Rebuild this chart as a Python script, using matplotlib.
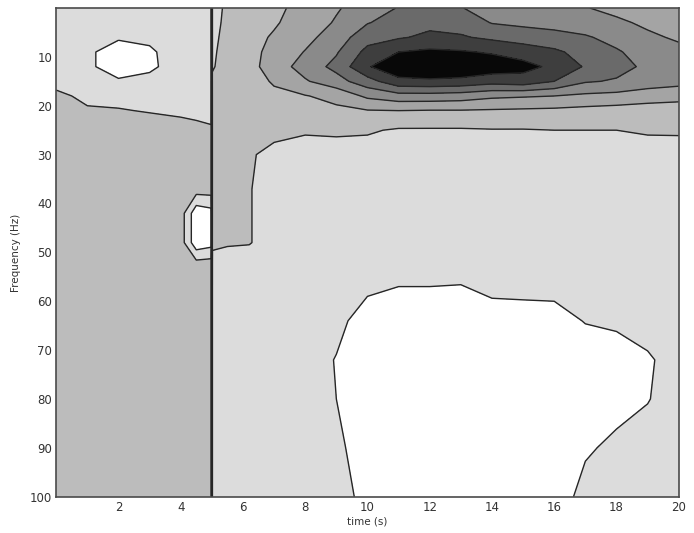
import numpy as np
import matplotlib
matplotlib.use('Agg')
import matplotlib.pyplot as plt

# sample times (s) and frequencies (Hz) of the power map
times = [0, 1, 2, 3, 4, 4.5, 4.98, 5.0, 5.02, 5.5, 6.2, 7, 8, 9, 10,
         11, 12, 13, 14, 15, 16, 17, 18, 19, 20]
freqs = [0, 3, 6, 9, 12, 15, 18, 21, 25, 30, 37, 42, 48, 52, 58, 64, 72, 80, 90, 100]

# one spectrum per time sample, low -> high frequency
spectra = [
    [1.5, 1.5, 1.5, 1.5, 1.5, 1.7, 2.2, 2.5, 2.5, 2.5, 2.5, 2.5, 2.5, 2.5, 2.5, 2.5, 2.5, 2.5, 2.5, 2.5],
    [1.5, 1.5, 1.3, 1.15, 1.15, 1.5, 1.8, 2.1, 2.5, 2.5, 2.5, 2.5, 2.5, 2.5, 2.5, 2.5, 2.5, 2.5, 2.5, 2.5],
    [1.5, 1.4, 1.1, 0.6, 0.6, 1.1, 1.75, 2.05, 2.5, 2.5, 2.5, 2.5, 2.5, 2.5, 2.5, 2.5, 2.5, 2.5, 2.5, 2.5],
    [1.5, 1.45, 1.2, 0.85, 0.8, 1.3, 1.8, 1.95, 2.4, 2.5, 2.5, 2.5, 2.5, 2.5, 2.5, 2.5, 2.5, 2.5, 2.5, 2.5],
    [1.5, 1.5, 1.5, 1.5, 1.5, 1.55, 1.7, 1.85, 2.3, 2.5, 2.5, 2.5, 2.5, 2.5, 2.5, 2.5, 2.5, 2.5, 2.5, 2.5],
    [1.5, 1.5, 1.5, 1.5, 1.5, 1.55, 1.65, 1.8, 2.2, 2.5, 2.5, 0.3, 0.3, 2.2, 2.5, 2.5, 2.5, 2.5, 2.5, 2.5],
    [1.5, 1.5, 1.5, 1.5, 1.5, 1.5, 1.6, 1.75, 2.1, 2.5, 2.5, 0.6, 0.6, 2.3, 2.5, 2.5, 2.5, 2.5, 2.5, 2.5],
    [8.0, 8.0, 8.0, 8.0, 8.0, 8.0, 8.0, 8.0, 8.0, 8.0, 8.0, 8.0, 8.0, 8.0, 8.0, 8.0, 8.0, 8.0, 8.0, 8.0],
    [1.6, 1.6, 1.7, 1.8, 1.9, 2.2, 2.4, 2.5, 2.5, 2.5, 2.5, 2.5, 2.2, 1.7, 1.5, 1.5, 1.5, 1.5, 1.5, 1.5],
    [2.2, 2.3, 2.4, 2.5, 2.5, 2.5, 2.5, 2.5, 2.5, 2.5, 2.5, 2.5, 2.1, 1.6, 1.5, 1.5, 1.5, 1.5, 1.5, 1.5],
    [2.6, 2.65, 2.7, 2.7, 2.65, 2.6, 2.5, 2.4, 2.3, 2.1, 2.05, 2.05, 2.05, 1.6, 1.5, 1.5, 1.5, 1.5, 1.5, 1.5],
    [2.8, 2.9, 3.1, 3.3, 3.5, 3.1, 2.8, 2.55, 2.25, 1.75, 1.6, 1.6, 1.6, 1.55, 1.5, 1.5, 1.5, 1.5, 1.5, 1.5],
    [3.3, 3.45, 3.7, 4.05, 4.4, 3.9, 2.95, 2.6, 2.1, 1.6, 1.55, 1.55, 1.55, 1.55, 1.5, 1.5, 1.5, 1.5, 1.5, 1.5],
    [3.9, 4.1, 4.5, 4.9, 5.3, 4.6, 3.3, 2.8, 2.15, 1.6, 1.55, 1.55, 1.55, 1.55, 1.55, 1.3, 0.95, 1.0, 1.3, 1.95],
    [4.5, 4.95, 5.6, 6.3, 6.9, 5.6, 4.2, 2.95, 2.1, 1.6, 1.55, 1.55, 1.5, 1.5, 1.1, 0.5, 0.3, 0.3, 0.3, 0.3],
    [5.05, 5.4, 5.9, 7.0, 7.8, 6.7, 4.6, 3.0, 1.9, 1.6, 1.55, 1.55, 1.5, 1.5, 0.9, 0.3, 0.3, 0.3, 0.3, 0.3],
    [5.5, 5.75, 6.2, 7.2, 8.0, 6.8, 4.6, 2.95, 1.9, 1.6, 1.55, 1.55, 1.5, 1.5, 0.9, 0.3, 0.3, 0.3, 0.3, 0.3],
    [5.05, 5.6, 6.1, 7.1, 7.9, 6.7, 4.5, 2.95, 1.9, 1.6, 1.55, 1.55, 1.5, 1.5, 0.85, 0.3, 0.3, 0.3, 0.3, 0.3],
    [4.5, 4.95, 5.8, 6.9, 7.6, 6.4, 4.2, 2.9, 1.95, 1.6, 1.55, 1.55, 1.55, 1.55, 1.15, 0.5, 0.3, 0.3, 0.3, 0.3],
    [4.4, 4.8, 5.5, 6.6, 7.3, 6.6, 4.1, 2.85, 1.95, 1.6, 1.55, 1.55, 1.55, 1.55, 1.2, 0.5, 0.3, 0.3, 0.3, 0.3],
    [4.3, 4.7, 5.3, 6.2, 6.8, 6.0, 4.0, 2.8, 2.0, 1.6, 1.55, 1.55, 1.55, 1.55, 1.2, 0.6, 0.3, 0.3, 0.3, 0.35],
    [4.05, 4.5, 5.1, 5.6, 5.9, 5.1, 3.8, 2.7, 2.0, 1.6, 1.55, 1.55, 1.55, 1.55, 1.5, 1.05, 0.4, 0.5, 0.85, 1.4],
    [3.7, 4.2, 4.7, 5.1, 5.35, 4.9, 3.7, 2.6, 2.0, 1.6, 1.55, 1.55, 1.55, 1.55, 1.5, 1.15, 0.6, 0.6, 1.25, 1.5],
    [3.4, 3.8, 4.2, 4.6, 4.8, 4.5, 3.5, 2.5, 2.1, 1.6, 1.55, 1.55, 1.55, 1.55, 1.5, 1.5, 0.85, 0.95, 1.45, 1.5],
    [3.2, 3.5, 3.85, 4.3, 4.5, 4.3, 3.4, 2.4, 2.1, 1.65, 1.55, 1.55, 1.55, 1.55, 1.5, 1.5, 1.5, 1.5, 1.5, 1.5],
]

xticks = [2, 4, 6, 8, 10, 12, 14, 16, 18, 20]
yticks = [10, 20, 30, 40, 50, 60, 70, 80, 90, 100]

levels = [0, 1, 2, 3, 4, 5, 6, 7, 10]
shades = ['#ffffff', '#dcdcdc', '#bcbcbc', '#a4a4a4', '#8a8a8a',
          '#6a6a6a', '#3e3e3e', '#080808']

power = np.array(spectra).T

fig = plt.figure(figsize=(6.94, 5.33), dpi=100, facecolor='white')
ax = fig.add_axes([0.081, 0.068, 0.897, 0.917])

ax.contourf(times, freqs, power, levels=levels, colors=shades)
ax.contour(times, freqs, power, levels=levels[1:-1], colors='#262626', linewidths=1.0)

ax.set_xlim(0, 20)
ax.set_ylim(100, 0)
ax.set_xticks(xticks)
ax.set_yticks(yticks)
ax.set_xticklabels([str(t) for t in xticks], fontsize=8.5, color='#333333')
ax.set_yticklabels([str(t) for t in yticks], fontsize=8.5, color='#333333')
ax.tick_params(direction='in', length=0, pad=3)

axcol = '#4a4a4a'
for side in ['top', 'bottom', 'left', 'right']:
    ax.spines[side].set_color(axcol)
    ax.spines[side].set_linewidth(1.2)

ax.set_xlabel('time (s)', fontsize=7.5, color='#333333', labelpad=2)
ax.set_ylabel('Frequency (Hz)', fontsize=7.5, color='#333333', labelpad=6)

plt.savefig('out.png', dpi=100, facecolor='white')
plt.close()
